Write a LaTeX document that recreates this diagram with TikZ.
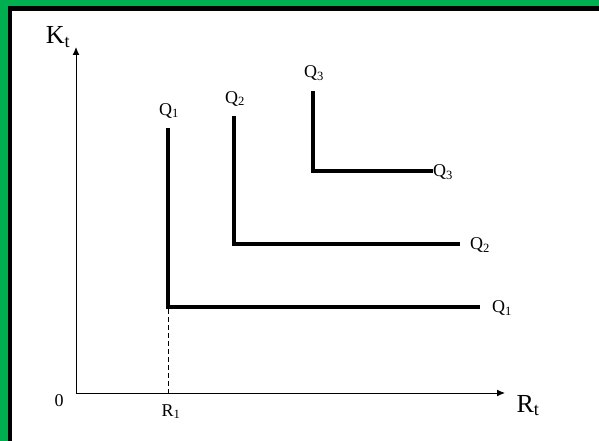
\documentclass[tikz,border=0pt]{standalone}
\usepackage{fontspec}
\setmainfont{Liberation Serif}
\usepackage{xcolor}
\usetikzlibrary{positioning, arrows.meta}
\definecolor{framegreen}{RGB}{0,176,80}

\begin{document}
\begin{tikzpicture}[x=1pt, y=-1pt,
    axis/.style={line width=1pt, -{Latex[length=8pt,width=7pt]}},
    isoq/.style={line width=3.2pt},
    qlab/.style={inner sep=0pt, font=\fontsize{18}{18}\selectfont},
    biglab/.style={inner sep=0pt, font=\fontsize{26}{26}\selectfont}]
  \useasboundingbox (0,0) rectangle (599,441);
  % frame (top and left only)
  \fill[framegreen] (0,0) rectangle (599,6);
  \fill[framegreen] (0,0) rectangle (8,441);
  \fill[black] (8,6) rectangle (599,11);
  \fill[black] (8,6) rectangle (12,441);
  % axes
  \coordinate (o) at (76,393);
  \coordinate (ytop) at (76,47);
  \coordinate (xend) at (505,393);
  \draw[axis] (o) -- (ytop);
  \draw[axis] (o) -- (xend);
  \node[biglab, anchor=base] (kt) at (58,44) {K\textsubscript{t}};
  \node[biglab, anchor=base] (rt) at (528,412) {R\textsubscript{t}};
  \node[qlab, anchor=base] (zero) at (59,406) {0};
  \node[qlab, anchor=base] (r1) at (171,416) {R\textsubscript{1}};
  % isoquants
  \foreach \n/\x/\yt/\yc/\xe/\gap in {1/168/128/307/480/12, 2/234/116/244/460/10, 3/313/91/171/433/0} {
    \draw[isoq] (\x,\yt) -- (\x,\yc) -- (\xe,\yc);
    \node[qlab, anchor=base] (qtop\n) at (\x+1,\yt-13) {Q\textsubscript{\n}};
    \node[qlab, anchor=west] (qend\n) at (\xe+\gap,\yc+1) {Q\textsubscript{\n}};
  }
  \coordinate (dtop) at (168,309);
  \draw[dashed, dash pattern=on 5pt off 3pt, line width=0.7pt] (dtop) -- (dtop |- o);
\end{tikzpicture}
\end{document}
